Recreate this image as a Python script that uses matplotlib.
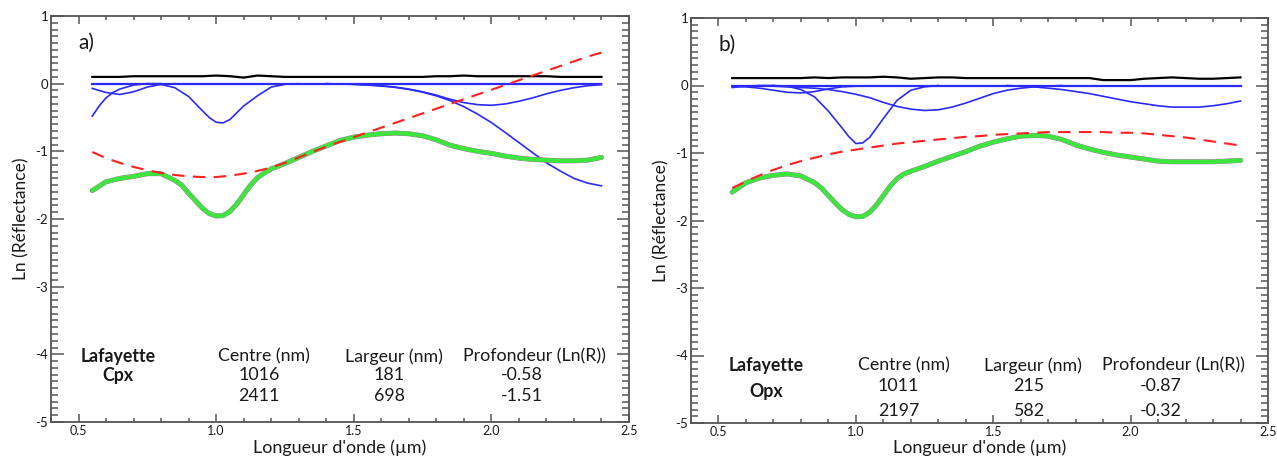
import matplotlib
matplotlib.use("Agg")
import matplotlib.pyplot as plt
from matplotlib.ticker import MultipleLocator

plt.rcParams['font.family'] = ['Lato', 'DejaVu Sans']
plt.rcParams['axes.unicode_minus'] = False

# ---------------- data ----------------
WL = [0.55, 0.60, 0.65, 0.70, 0.75, 0.80, 0.85, 0.90, 0.95, 1.00,
      1.05, 1.10, 1.15, 1.20, 1.25, 1.30, 1.35, 1.40, 1.45, 1.50,
      1.55, 1.60, 1.65, 1.70, 1.75, 1.80, 1.85, 1.90, 1.95, 2.00,
      2.05, 2.10, 2.15, 2.20, 2.25, 2.30, 2.35, 2.40]

# wavelengths of the measured spectra (denser through the 1 µm band)
WL_SPEC = [0.55, 0.60, 0.65, 0.70, 0.75, 0.80, 0.85, 0.875, 0.90, 0.925,
           0.95, 0.975, 1.00, 1.025, 1.05, 1.075, 1.10, 1.125, 1.15, 1.175,
           1.20, 1.25, 1.30, 1.35, 1.40, 1.45, 1.50, 1.55, 1.60, 1.65,
           1.70, 1.75, 1.80, 1.85, 1.90, 1.95, 2.00, 2.05, 2.10, 2.15,
           2.20, 2.25, 2.30, 2.35, 2.40]

# panel a) Cpx
residual_a = [0.10, 0.10, 0.10, 0.11, 0.11, 0.11, 0.11, 0.11, 0.11, 0.12,
              0.11, 0.09, 0.12, 0.11, 0.10, 0.10, 0.10, 0.10, 0.10, 0.10,
              0.10, 0.10, 0.10, 0.10, 0.10, 0.11, 0.11, 0.12, 0.11, 0.11,
              0.11, 0.11, 0.11, 0.11, 0.10, 0.10, 0.10, 0.10]
spectrum_a = [-1.58, -1.45, -1.40, -1.37, -1.33, -1.33, -1.43, -1.50, -1.62, -1.73,
              -1.84, -1.92, -1.955, -1.95, -1.89, -1.78, -1.64, -1.50, -1.39, -1.32,
              -1.26, -1.18, -1.09, -1.00, -0.92, -0.84, -0.79, -0.76, -0.74, -0.73,
              -0.74, -0.77, -0.83, -0.91, -0.96, -1.00, -1.03, -1.07, -1.10, -1.12,
              -1.13, -1.14, -1.14, -1.13, -1.09]
continuum_a = [-1.01, -1.10, -1.17, -1.23, -1.28, -1.32, -1.35, -1.37, -1.38, -1.38,
               -1.36, -1.33, -1.29, -1.24, -1.17, -1.09, -1.01, -0.93, -0.86, -0.79,
               -0.72, -0.65, -0.58, -0.51, -0.44, -0.37, -0.30, -0.23, -0.16, -0.09,
               -0.02, 0.05, 0.12, 0.19, 0.26, 0.33, 0.40, 0.46]
bandA_a_x = [0.55, 0.575, 0.60, 0.625, 0.65, 0.70, 0.75, 0.80]
bandA_a_y = [-0.48, -0.33, -0.21, -0.13, -0.08, -0.02, 0.0, 0.0]
bandB_a_x = [0.55, 0.60, 0.65, 0.70, 0.75, 0.80, 0.85]
bandB_a_y = [-0.07, -0.13, -0.16, -0.12, -0.05, -0.01, 0.0]
bandC_a_x = [0.75, 0.80, 0.85, 0.90, 0.95, 0.975, 1.00, 1.025, 1.05, 1.10, 1.15, 1.20, 1.25, 1.30]
bandC_a_y = [0.0, -0.01, -0.06, -0.19, -0.40, -0.50, -0.57, -0.58, -0.53, -0.33, -0.18, -0.05, -0.01, 0.0]
bandD_a_x = [1.40, 1.45, 1.50, 1.55, 1.60, 1.65, 1.70, 1.75, 1.80, 1.85, 1.90,
             1.95, 2.00, 2.05, 2.10, 2.15, 2.20, 2.25, 2.30, 2.35, 2.40]
bandD_a_y = [0.0, -0.005, -0.01, -0.02, -0.035, -0.055, -0.085, -0.125, -0.18, -0.25, -0.34,
             -0.45, -0.575, -0.72, -0.87, -1.02, -1.17, -1.29, -1.40, -1.47, -1.51]
bandE_a_x = bandD_a_x
bandE_a_y = [0.0, -0.005, -0.01, -0.02, -0.03, -0.05, -0.08, -0.12, -0.17, -0.23, -0.28,
             -0.31, -0.32, -0.30, -0.26, -0.21, -0.15, -0.10, -0.06, -0.03, -0.015]

# panel b) Opx
residual_b = [0.11, 0.11, 0.11, 0.11, 0.11, 0.11, 0.12, 0.11, 0.12, 0.12,
              0.12, 0.13, 0.12, 0.10, 0.11, 0.12, 0.12, 0.11, 0.11, 0.11,
              0.11, 0.11, 0.11, 0.11, 0.11, 0.11, 0.11, 0.08, 0.08, 0.08,
              0.10, 0.11, 0.12, 0.11, 0.10, 0.10, 0.11, 0.12]
spectrum_b = [-1.58, -1.44, -1.37, -1.33, -1.31, -1.34, -1.44, -1.52, -1.63, -1.74,
              -1.84, -1.91, -1.945, -1.94, -1.88, -1.77, -1.63, -1.49, -1.38, -1.31,
              -1.27, -1.20, -1.12, -1.05, -0.98, -0.90, -0.84, -0.79, -0.75, -0.74,
              -0.75, -0.80, -0.88, -0.94, -0.99, -1.03, -1.06, -1.09, -1.12, -1.13,
              -1.13, -1.13, -1.13, -1.12, -1.11]
continuum_b = [-1.52, -1.42, -1.33, -1.25, -1.18, -1.12, -1.07, -1.02, -0.98, -0.95,
               -0.92, -0.89, -0.86, -0.84, -0.82, -0.80, -0.78, -0.76, -0.75, -0.73,
               -0.72, -0.71, -0.70, -0.69, -0.69, -0.69, -0.69, -0.69, -0.70, -0.70,
               -0.71, -0.73, -0.75, -0.77, -0.80, -0.83, -0.86, -0.89]
bandA_b_x = [0.55, 0.60, 0.65, 0.70]
bandA_b_y = [-0.03, -0.01, 0.0, 0.0]
bandB_b_x = [0.55, 0.60, 0.65, 0.70, 0.75, 0.80, 0.85, 0.90, 0.95, 1.00]
bandB_b_y = [-0.01, -0.02, -0.04, -0.07, -0.10, -0.11, -0.09, -0.05, -0.02, -0.01]
bandC_b_x = [0.70, 0.75, 0.80, 0.85, 0.90, 0.95, 0.975, 1.00, 1.025, 1.05, 1.10, 1.15, 1.20, 1.25, 1.30]
bandC_b_y = [0.0, -0.01, -0.06, -0.17, -0.38, -0.63, -0.76, -0.86, -0.85, -0.77, -0.49, -0.22, -0.07, -0.02, 0.0]
bandD_b_x = [0.70, 0.75, 0.80, 0.85, 0.90, 0.95, 1.00, 1.05, 1.10, 1.15, 1.20,
             1.25, 1.30, 1.35, 1.40, 1.45, 1.50, 1.55, 1.60, 1.65, 1.70, 1.75]
bandD_b_y = [-0.01, -0.02, -0.03, -0.04, -0.06, -0.09, -0.13, -0.18, -0.25, -0.31, -0.35,
             -0.37, -0.36, -0.32, -0.26, -0.19, -0.12, -0.07, -0.04, -0.02, -0.01, 0.0]
bandE_b_x = [1.55, 1.60, 1.65, 1.70, 1.75, 1.80, 1.85, 1.90, 1.95, 2.00,
             2.05, 2.10, 2.15, 2.20, 2.25, 2.30, 2.35, 2.40]
bandE_b_y = [0.0, -0.01, -0.02, -0.04, -0.06, -0.09, -0.12, -0.16, -0.20, -0.24,
             -0.27, -0.30, -0.32, -0.32, -0.32, -0.30, -0.27, -0.23]

XTICKS = [0.5, 1.0, 1.5, 2.0, 2.5]
XTICKLABELS = ["0.5", "1.0", "1.5", "2.0", "2.5"]
YTICKS = [1, 0, -1, -2, -3, -4, -5]
YTICKLABELS = ["1", "0", "-1", "-2", "-3", "-4", "-5"]

TABLE_HEAD = ["Centre (nm)", "Largeur (nm)", "Profondeur (Ln(R))"]
table_a = [["1016", "181", "-0.58"], ["2411", "698", "-1.51"]]
table_b = [["1011", "215", "-0.87"], ["2197", "582", "-0.32"]]

# ---------------- figure ----------------
W, H = 1277, 459
fig = plt.figure(figsize=(W / 100, H / 100), dpi=100)
ax1 = fig.add_axes([51 / W, 1 - 422 / H, (629 - 51) / W, (422 - 16) / H])
ax2 = fig.add_axes([691 / W, 1 - 423 / H, (1268 - 691) / W, (423 - 18) / H])

BLUE = '#2a2aff'
GREEN = '#3ce63c'
MAGENTA = '#d050d0'
RED = '#ff2020'
SPINE = '#555555'
TXT = '#1a1a1a'


def draw(ax, residual, spectrum, continuum, bands, label, sample, table, ty, tx_lab, yl):
    ax.plot(WL, residual, color='black', lw=1.6, zorder=3)
    ax.plot([WL[0], WL[-1]], [0, 0], color=BLUE, lw=1.6, zorder=3)
    for bx, by in bands:
        ax.plot(bx, by, color=BLUE, lw=1.2, zorder=3)
    ax.plot(WL_SPEC, spectrum, color=MAGENTA, lw=3.6, zorder=4, solid_capstyle='round')
    ax.plot(WL_SPEC, spectrum, color=GREEN, lw=3.2, zorder=5, solid_capstyle='round')
    ax.plot(WL, continuum, color=RED, lw=1.5, dashes=(6, 4), zorder=6)

    ax.set_xlim(0.4, 2.5)
    ax.set_ylim(-5, 1)
    ax.set_xticks(XTICKS)
    ax.set_xticklabels(XTICKLABELS)
    ax.set_yticks(YTICKS)
    ax.set_yticklabels(YTICKLABELS)
    ax.xaxis.set_minor_locator(MultipleLocator(0.1))
    ax.yaxis.set_minor_locator(MultipleLocator(0.1))
    ax.tick_params(axis='x', which='major', direction='in', length=6, width=1.1,
                   top=True, bottom=True, colors=SPINE, labelcolor=TXT,
                   labelsize=9, pad=2)
    ax.tick_params(axis='x', which='minor', direction='in', length=3.2, width=1.1,
                   top=True, bottom=True, colors=SPINE)
    ax.tick_params(axis='y', which='major', direction='in', length=9, width=1.1,
                   left=True, right=True, colors=SPINE, labelcolor=TXT,
                   labelsize=9.5, pad=2)
    ax.tick_params(axis='y', which='minor', direction='in', length=5, width=1.1,
                   left=True, right=True, colors=SPINE)
    for s in ax.spines.values():
        s.set_color(SPINE)
        s.set_linewidth(1.3)
    ax.set_xlabel("Longueur d'onde (µm)", fontsize=13, color=TXT)
    # place the x label just under the tick labels (top edge ~ 439 px)
    bottom_px = (1 - ax.get_position().y0) * H
    height_px = ax.get_position().height * H
    ax.xaxis.set_label_coords(0.5, -(439 - bottom_px) / height_px)
    ax.set_ylabel("Ln (Réflectance)", fontsize=12.5, labelpad=4, color=TXT)

    ax.text(0.53, 0.6, label, fontsize=15, ha='center', va='center', color=TXT)

    y0, y1, y2 = ty
    fs = 12.8
    ax.text(tx_lab, y0, "Lafayette", fontsize=fs, fontweight='bold', ha='center', va='center', color=TXT)
    ax.text(tx_lab, yl, sample, fontsize=fs, fontweight='bold', ha='center', va='center', color=TXT)
    head_x = [1.175, 1.645, 2.155]
    val_x = [1.155, 1.63, 2.11]
    for hx, h in zip(head_x, TABLE_HEAD):
        ax.text(hx, y0, h, fontsize=fs, ha='center', va='center', color=TXT)
    for row, yy in zip(table, [y1, y2]):
        for vx, v in zip(val_x, row):
            ax.text(vx, yy, v, fontsize=fs, ha='center', va='center', color=TXT)


draw(ax1, residual_a, spectrum_a, continuum_a,
     [(bandA_a_x, bandA_a_y), (bandB_a_x, bandB_a_y), (bandC_a_x, bandC_a_y),
      (bandD_a_x, bandD_a_y), (bandE_a_x, bandE_a_y)],
     "a)", "Cpx", table_a, (-4.03, -4.31, -4.62), 0.645, -4.31)
draw(ax2, residual_b, spectrum_b, continuum_b,
     [(bandA_b_x, bandA_b_y), (bandB_b_x, bandB_b_y), (bandC_b_x, bandC_b_y),
      (bandD_b_x, bandD_b_y), (bandE_b_x, bandE_b_y)],
     "b)", "Opx", table_b, (-4.15, -4.45, -4.82), 0.675, -4.54)

fig.savefig("out.png", dpi=100)
